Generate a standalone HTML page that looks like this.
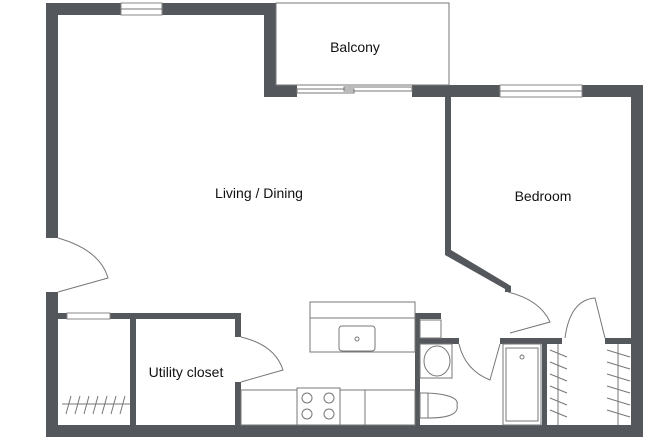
<!DOCTYPE html>
<html><head><meta charset="utf-8"><style>
html,body{margin:0;padding:0;background:#fff;width:650px;height:440px;overflow:hidden}
text{font-family:"Liberation Sans",sans-serif;font-size:14px;fill:#111}
</style></head><body>
<svg width="650" height="440" viewBox="0 0 650 440" xmlns="http://www.w3.org/2000/svg">
<g fill="#54575c">
<rect x="46" y="3" width="12" height="235"/>
<rect x="46" y="292" width="12" height="145"/>
<rect x="46" y="3" width="230" height="12"/>
<rect x="264" y="3" width="12" height="94"/>
<rect x="264" y="85" width="33" height="12"/>
<rect x="412" y="85" width="231" height="12"/>
<rect x="631" y="85" width="12" height="352"/>
<rect x="46" y="425" width="597" height="12"/>
<rect x="445" y="97" width="6" height="155"/>
<polygon points="445,250 451,250 511,286 511,292 505,292 505,289 445,255"/>
<rect x="58" y="313" width="182" height="6"/>
<rect x="130" y="313" width="6" height="113"/>
<rect x="235" y="313" width="6" height="24"/>
<rect x="235" y="382" width="6" height="44"/>
<rect x="415" y="313" width="5" height="113"/>
<rect x="415" y="313" width="26" height="6"/>
<rect x="419" y="338" width="40" height="6"/>
<rect x="500" y="338" width="62" height="6"/>
<rect x="605" y="338" width="26" height="6"/>
<rect x="542" y="344" width="5" height="82"/>
</g>
<g fill="#fff" stroke="#888" stroke-width="1">
<rect x="121" y="3" width="41" height="12"/>
<rect x="500" y="85" width="82" height="12"/>
<rect x="67" y="313" width="43" height="6"/>
</g>
<g fill="none" stroke="#777" stroke-width="1">
<line x1="121" y1="9" x2="162" y2="9"/>
<line x1="500" y1="91" x2="582" y2="91"/>
<rect x="276" y="3" width="173" height="82"/>
<rect x="297" y="89" width="57" height="4"/>
<rect x="344" y="87" width="68" height="4"/>
<path d="M58 238 Q100 250 108 278 L58 292"/>
<path d="M241 337 Q275 345 283 370 L241 382"/>
<path d="M508 292 Q540 300 550 322 L510 333"/>
<path d="M459 344 Q465 370 490 380 L500 344"/>
<path d="M565 338 Q570 300 595 298 L605 338"/>
<rect x="310" y="302" width="105" height="50"/>
<line x1="310" y1="318" x2="415" y2="318"/>
<rect x="339" y="326" width="36" height="25" rx="3"/>
<circle cx="357" cy="339" r="2"/>
<rect x="241" y="390" width="56" height="35"/>
<rect x="297" y="388" width="43" height="37"/>
<rect x="340" y="390" width="75" height="35"/>
<line x1="365" y1="390" x2="365" y2="425"/>
<circle cx="307" cy="398" r="5"/><circle cx="329" cy="398" r="5"/>
<circle cx="307" cy="414" r="5"/><circle cx="329" cy="414" r="5"/>
<rect x="420" y="320" width="21" height="18"/>
<rect x="420" y="344" width="32" height="34"/>
<ellipse cx="437" cy="361" rx="13" ry="15"/>
<path d="M420 393 L428 393 L428 418 L420 418 Z M428 393 Q460 395 457 405 Q460 418 428 418"/>
<rect x="503" y="344" width="38" height="81"/>
<rect x="506" y="348" width="32" height="73"/>
<circle cx="522" cy="357" r="2"/>
<line x1="558" y1="344" x2="558" y2="425"/>
<line x1="618" y1="344" x2="618" y2="425"/>
<path d="M550 350 L567 357 M550 362 L567 369 M550 374 L567 381 M550 386 L567 393 M550 398 L567 405 M550 410 L567 417 M607 350 L630 357 M607 362 L630 369 M607 374 L630 381 M607 386 L630 393 M607 398 L630 405 M607 410 L630 417"/>
<line x1="62" y1="404" x2="130" y2="404"/>
<path d="M66 414 L71 396 M75 414 L80 396 M84 414 L89 396 M93 414 L98 396 M102 414 L107 396 M111 414 L116 396 M120 414 L125 396"/>
</g>
<text x="355" y="52" text-anchor="middle">Balcony</text>
<text x="259" y="198" text-anchor="middle">Living / Dining</text>
<text x="543" y="201" text-anchor="middle">Bedroom</text>
<text x="186" y="377" text-anchor="middle">Utility closet</text>
</svg>
</body></html>
